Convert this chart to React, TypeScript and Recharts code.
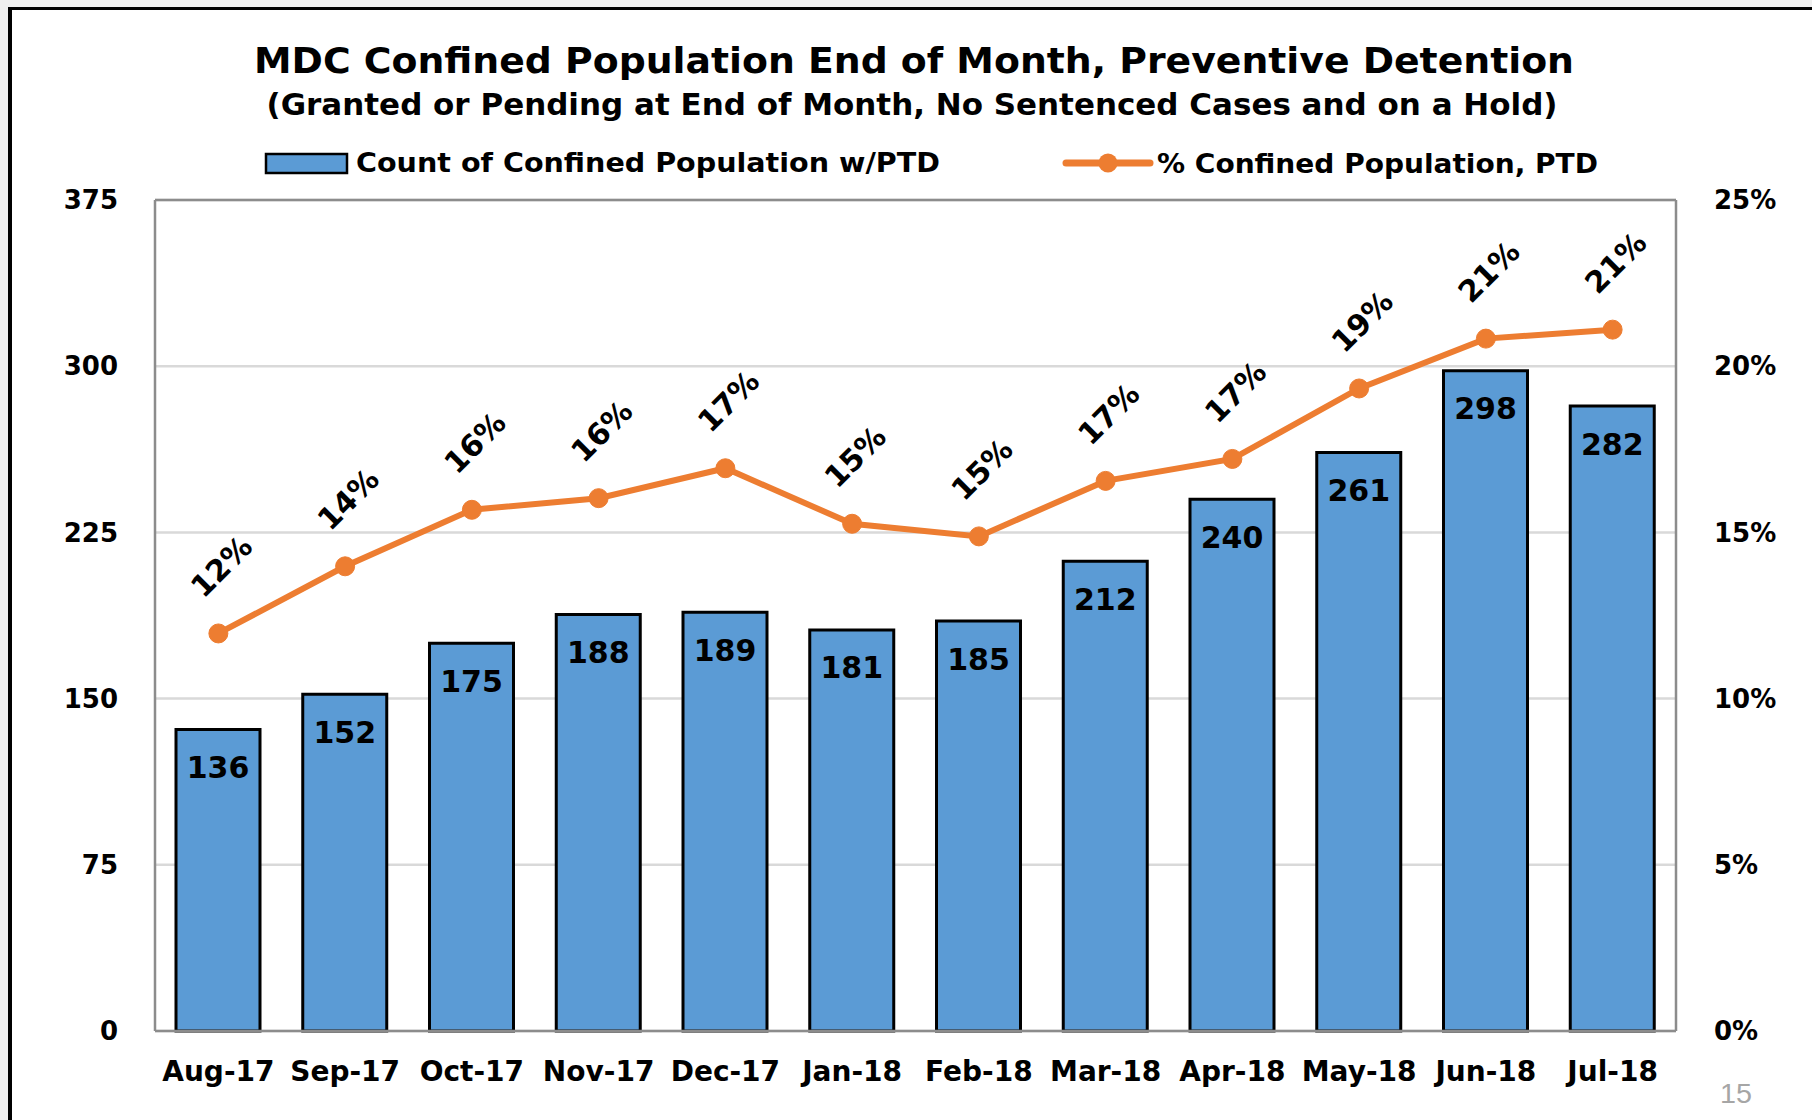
import React from "react";
import {
  ComposedChart,
  Bar,
  Line,
  XAxis,
  YAxis,
  CartesianGrid,
  ReferenceLine,
  LabelList,
} from "recharts";

// months on the x axis
const months = [
  "Aug-17", "Sep-17", "Oct-17", "Nov-17", "Dec-17", "Jan-18",
  "Feb-18", "Mar-18", "Apr-18", "May-18", "Jun-18", "Jul-18",
];

// count of confined population w/PTD (bars, left axis)
const counts = [136, 152, 175, 188, 189, 181, 185, 212, 240, 261, 298, 282];

// % confined population, PTD (line, right axis)
const pcts = [11.96, 13.98, 15.68, 16.03, 16.93, 15.26, 14.88, 16.55, 17.21, 19.33, 20.83, 21.1];

const leftTicks = [0, 75, 150, 225, 300, 375];
const rightTicks = [0, 5, 10, 15, 20, 25];

const FONT = "'DejaVu Sans', Verdana, sans-serif";
const BLUE = "#5b9bd5";
const ORANGE = "#ed7d31";

const data = months.map((m, i) => ({ month: m, count: counts[i], pct: pcts[i] }));

// value inside the top of each bar
const BarValue = (props: any) => {
  const { x, y, width, value } = props;
  return (
    <text
      x={x + width / 2}
      y={y + 38}
      textAnchor="middle"
      dominantBaseline="central"
      fontFamily={FONT}
      fontWeight="bold"
      fontSize={30}
      fill="#000"
    >
      {value}
    </text>
  );
};

// rotated percent label above each point
const PctValue = (props: any) => {
  const { x, y, value } = props;
  const cx = x + 3;
  const cy = y - 67;
  return (
    <text
      x={cx}
      y={cy}
      transform={`rotate(-45 ${cx} ${cy})`}
      textAnchor="middle"
      dominantBaseline="central"
      fontFamily={FONT}
      fontWeight="bold"
      fontSize={30}
      fill="#000"
    >
      {Math.round(value)}%
    </text>
  );
};

export default function App() {
  return (
    <div
      style={{
        position: "absolute",
        left: 0,
        top: 0,
        width: 1812,
        height: 1120,
        overflow: "hidden",
        background: "#efefef",
      }}
    >
      {/* slide frame */}
      <div
        style={{
          position: "absolute",
          left: 8,
          top: 7,
          width: 1812,
          height: 1120,
          background: "#fff",
          borderLeft: "4px solid #000",
          borderTop: "3px solid #000",
        }}
      />
      <div style={{ position: "absolute", left: 0, top: 0 }}>
        <ComposedChart
          width={1812}
          height={1120}
          data={data}
          margin={{ top: 200, right: 0, bottom: 29, left: 0 }}
        >
          <CartesianGrid
            yAxisId="left"
            vertical={false}
            stroke="#d9d9d9"
            strokeWidth={2.5}
          />
          <XAxis
            dataKey="month"
            height={60}
            interval={0}
            tickSize={0}
            tickMargin={30}
            axisLine={{ stroke: "#8c8c8c", strokeWidth: 2.5 }}
            tick={{ fontFamily: FONT, fontWeight: "bold", fontSize: 28, fill: "#000" }}
          />
          <YAxis
            yAxisId="left"
            width={155}
            domain={[0, 375]}
            ticks={leftTicks}
            tickSize={0}
            tickMargin={37}
            axisLine={{ stroke: "#8c8c8c", strokeWidth: 2.5 }}
            tick={{ fontFamily: FONT, fontWeight: "bold", fontSize: 26, fill: "#000" }}
          />
          <YAxis
            yAxisId="right"
            orientation="right"
            width={136}
            domain={[0, 25]}
            ticks={rightTicks}
            tickFormatter={(v) => `${v}%`}
            tickSize={0}
            tickMargin={38}
            axisLine={{ stroke: "#8c8c8c", strokeWidth: 2.5 }}
            tick={{ fontFamily: FONT, fontWeight: "bold", fontSize: 26, fill: "#000" }}
          />
          <ReferenceLine yAxisId="left" y={375} stroke="#8c8c8c" strokeWidth={2.5} />
          <Bar
            yAxisId="left"
            dataKey="count"
            fill={BLUE}
            stroke="#000"
            strokeWidth={3}
            barSize={84}
            isAnimationActive={false}
          >
            <LabelList dataKey="count" content={BarValue} />
          </Bar>
          <Line
            yAxisId="right"
            dataKey="pct"
            stroke={ORANGE}
            strokeWidth={6}
            dot={{ r: 9.5, fill: ORANGE, stroke: ORANGE, strokeWidth: 1 }}
            activeDot={false}
            isAnimationActive={false}
          >
            <LabelList dataKey="pct" content={PctValue} />
          </Line>
        </ComposedChart>
      </div>
      {/* title, subtitle, legend and page number */}
      <svg
        width={1812}
        height={1120}
        style={{ position: "absolute", left: 0, top: 0, pointerEvents: "none" }}
      >
        <text
          x={914}
          y={73}
          textAnchor="middle"
          fontFamily={FONT}
          fontWeight="bold"
          fontSize={35}
          textLength={1320}
          lengthAdjust="spacingAndGlyphs"
        >
          MDC Confined Population End of Month, Preventive Detention
        </text>
        <text
          x={912}
          y={115}
          textAnchor="middle"
          fontFamily={FONT}
          fontWeight="bold"
          fontSize={30}
          textLength={1291}
          lengthAdjust="spacingAndGlyphs"
        >
          (Granted or Pending at End of Month, No Sentenced Cases and on a Hold)
        </text>
        <rect x={266} y={154} width={81} height={19} fill={BLUE} stroke="#000" strokeWidth={2.5} />
        <text
          x={356}
          y={172}
          fontFamily={FONT}
          fontWeight="bold"
          fontSize={26}
          textLength={584}
          lengthAdjust="spacingAndGlyphs"
        >
          Count of Confined Population w/PTD
        </text>
        <line x1={1066} y1={163} x2={1150} y2={163} stroke={ORANGE} strokeWidth={7} strokeLinecap="round" />
        <circle cx={1108} cy={163} r={9.5} fill={ORANGE} />
        <text
          x={1157}
          y={173}
          fontFamily={FONT}
          fontWeight="bold"
          fontSize={26}
          textLength={441}
          lengthAdjust="spacingAndGlyphs"
        >
          % Confined Population, PTD
        </text>
        <text
          x={1720}
          y={1103}
          fontFamily="'Liberation Sans', sans-serif"
          fontSize={28}
          fill="#a6a6a6"
          textLength={32}
          lengthAdjust="spacingAndGlyphs"
        >
          15
        </text>
      </svg>
    </div>
  );
}
